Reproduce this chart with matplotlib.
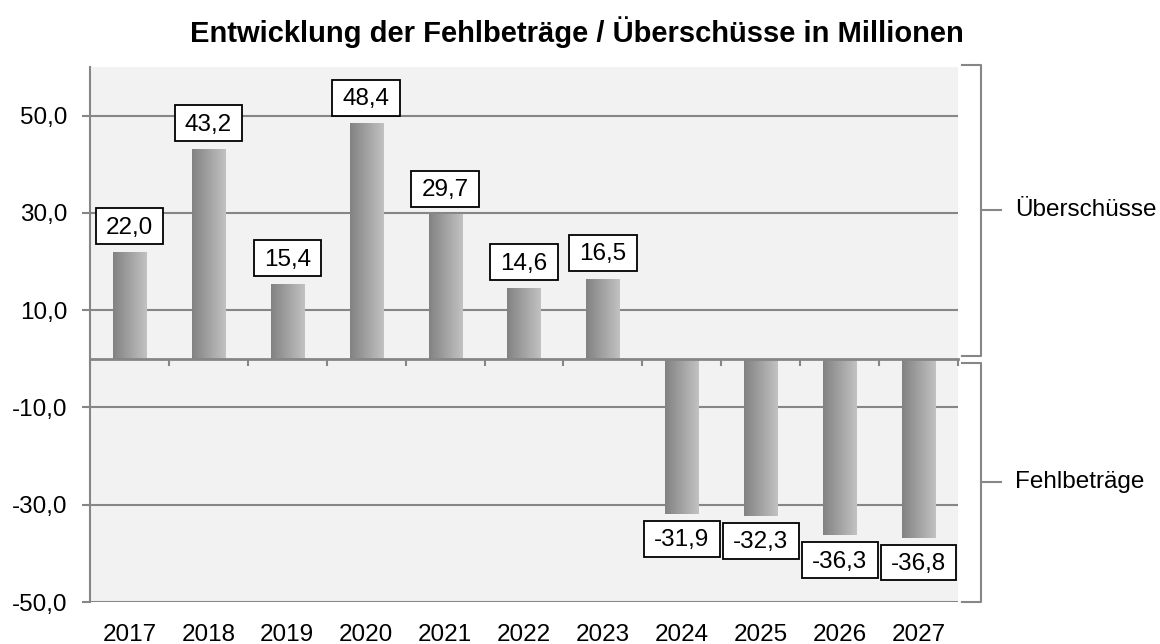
import matplotlib
matplotlib.use("Agg")
import matplotlib.pyplot as plt
import matplotlib.transforms as mtransforms
from matplotlib.colors import LinearSegmentedColormap
from matplotlib.path import Path
import numpy as np

plt.rcParams['font.family'] = ['Liberation Sans', 'DejaVu Sans']

years = ['2017', '2018', '2019', '2020', '2021', '2022', '2023', '2024', '2025', '2026', '2027']
values = [22.0, 43.2, 15.4, 48.4, 29.7, 14.6, 16.5, -31.9, -32.3, -36.3, -36.8]
yticks = [50, 30, 10, -10, -30, -50]
title = 'Entwicklung der Fehlbeträge / Überschüsse in Millionen'
group_labels = ['Überschüsse', 'Fehlbeträge']

fs = 17.5


def fmt(v):
    return '{:.1f}'.format(v).replace('.', ',')


def label_box(x0, y0, width, height, mutation_size):
    # wider side padding, a bit more room on top than below
    px = 0.42 * mutation_size
    pt = 0.34 * mutation_size
    pb = 0.22 * mutation_size
    l, r = x0 - px, x0 + width + px
    b, t = y0 - pb, y0 + height + pt
    return Path([(l, b), (r, b), (r, t), (l, t), (l, b)], closed=True)


fig = plt.figure(figsize=(11.6, 6.44), dpi=100)
ax = fig.add_axes([0.0776, 0.0652, 0.7483, 0.8307])
ax.set_facecolor('#f2f2f2')

grey = '#868686'
x = np.arange(len(years))

# grid
ax.set_yticks(yticks)
ax.set_yticklabels([fmt(v) for v in yticks], fontsize=fs)
ax.yaxis.grid(True, color=grey, linewidth=1.5)
ax.set_axisbelow(True)
ax.tick_params(axis='y', length=6, width=1.5, color=grey, pad=10)

# bars with a horizontal gradient
cmap = LinearSegmentedColormap.from_list('bar', ['#828282', '#c2c2c2'])
grad = np.linspace(0, 1, 256).reshape(1, -1)
bars = ax.bar(x, values, width=0.42, color='none', edgecolor='none', zorder=2)
for b in bars:
    bx, by = b.get_x(), b.get_y()
    w, h = b.get_width(), b.get_height()
    im = ax.imshow(grad, cmap=cmap, aspect='auto', zorder=2,
                   extent=[bx, bx + w, min(by, by + h), max(by, by + h)])
    im.set_clip_path(b)
ax.set_xlim(-0.5, len(years) - 0.5)
ax.set_ylim(-50, 60)

# value labels
for xi, v in zip(x, values):
    off = 9.5 if v >= 0 else -11
    ax.annotate(fmt(v), (xi, v), xytext=(0, off), textcoords='offset points',
                ha='center', va='bottom' if v >= 0 else 'top', fontsize=fs,
                bbox=dict(boxstyle=label_box, fc='white', ec='black', lw=1.3),
                zorder=5)

# axis line at zero with category boundary ticks
for s in ['top', 'right']:
    ax.spines[s].set_visible(False)
ax.spines['left'].set_color(grey)
ax.spines['left'].set_linewidth(1.5)
ax.spines['bottom'].set_position(('data', 0))
ax.spines['bottom'].set_color(grey)
ax.spines['bottom'].set_linewidth(2)
ax.spines['bottom'].set_zorder(3)
ax.set_xticks(np.arange(-0.5, len(years), 1.0))
ax.set_xticklabels([])
ax.tick_params(axis='x', length=5, width=1.5, color=grey, direction='out')

# year labels at the bottom
sec = ax.secondary_xaxis(0)
sec.set_xticks(x)
sec.set_xticklabels(years, fontsize=fs)
sec.tick_params(length=0, pad=16)
sec.spines['bottom'].set_visible(False)

fig.text(0.4975, 0.950, title, ha='center', va='center', fontsize=21, fontweight='bold')

# brackets on the right
tr = mtransforms.blended_transform_factory(ax.transAxes, ax.transData)
spans = [(0.6, 60.5), (-0.8, -50)]
for (y0, y1), lab in zip(spans, group_labels):
    xv = 1.0265
    ax.plot([1.0046, xv, xv, 1.0046], [y0, y0, y1, y1], color=grey, lw=1.5,
            transform=tr, clip_on=False)
    ym = (y0 + y1) / 2
    ax.plot([xv, 1.049], [ym, ym], color=grey, lw=1.5, transform=tr, clip_on=False)
    ax.text(1.066, ym, lab, transform=tr, ha='left', va='center', fontsize=fs)

fig.savefig('out.png', dpi=100)
